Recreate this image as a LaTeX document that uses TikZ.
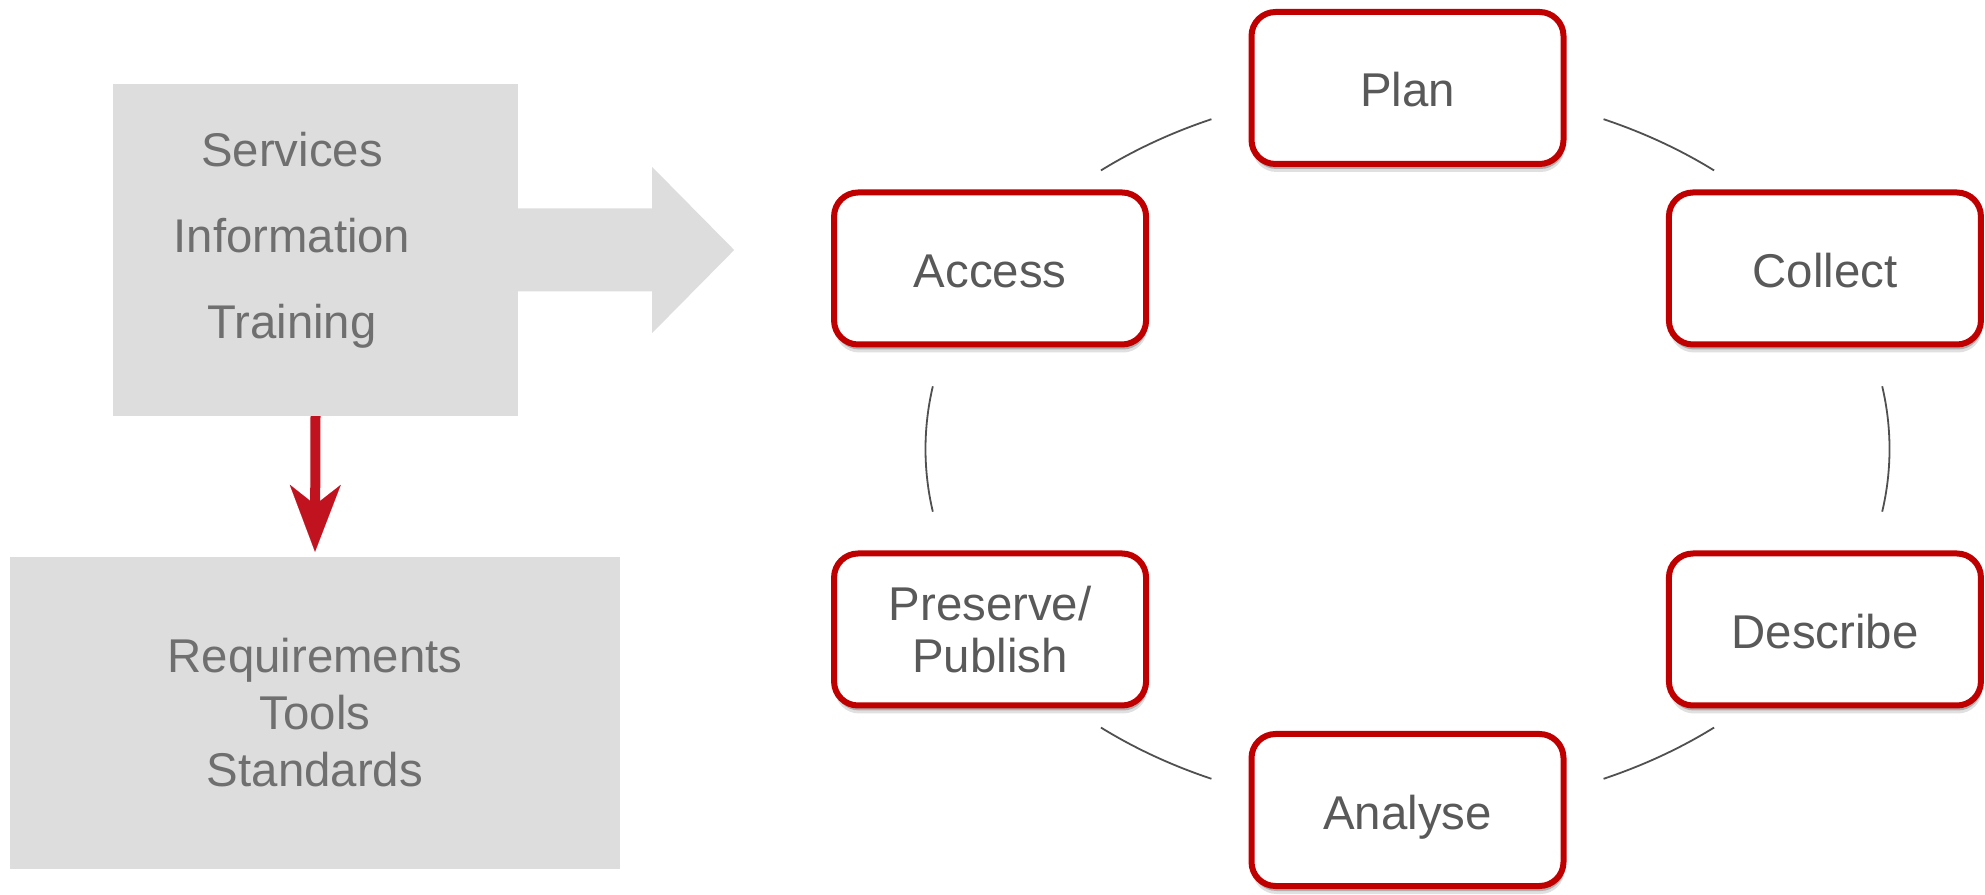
\documentclass[tikz,border=0pt]{standalone}
\usepackage{fontspec}
\setmainfont{Liberation Sans}
\usetikzlibrary{arrows.meta,shadows,calc}
\definecolor{boxgrey}{HTML}{DDDDDD}
\definecolor{lefttxt}{HTML}{6F6F6F}
\definecolor{cyctxt}{HTML}{595959}
\definecolor{cycred}{HTML}{C00000}
\definecolor{arrred}{HTML}{C0121F}
\definecolor{arcgrey}{HTML}{505050}
\begin{document}
\begin{tikzpicture}[x=1pt,y=1pt,
  greybox/.style={fill=boxgrey, draw=none, inner sep=0pt},
  lefttext/.style={text=lefttxt, align=center, inner sep=0pt},
  stagebase/.style={draw=cycred, line width=6pt, fill=white, rounded corners=24pt,
    minimum width=312pt, minimum height=152pt, inner sep=0pt, text=cyctxt,
    align=center, font=\fontsize{47.4}{52}\selectfont,
    drop shadow={shadow xshift=1pt, shadow yshift=-8pt, opacity=0.12, fill=black},
    drop shadow={shadow xshift=1pt, shadow yshift=-5pt, opacity=0.22, fill=black}},
  stage/.style={stagebase, text height=38pt, text depth=0pt},
  arcline/.style={draw=arcgrey, line width=1.8pt},
  redarr/.style={draw=arrred, line width=10pt,
    -{Stealth[length=67pt, width=51pt, inset=20pt, line width=0.1pt]}, shorten >=5pt},
]
\useasboundingbox (0,0) rectangle (1985,894);

% left side
\node[greybox, minimum width=405pt, minimum height=332pt] (src) at (315.5,644) {};
\node[lefttext, font=\fontsize{47.3}{86}\selectfont] (srctext) at (292,653.3)
  {Services\\Information\\Training};
\node[greybox, minimum width=610pt, minimum height=312pt] (dst) at (315,181) {};
\node[lefttext, font=\fontsize{47.4}{57}\selectfont] (dsttext) at (315,181.9)
  {Requirements\\Tools\\Standards};

\fill[boxgrey] ([xshift=-1pt,yshift=41.5pt]src.east) -- ++(135pt,0) -- ++(0,41.5pt)
  -- ++(82pt,-83pt) -- ++(-82pt,-83pt) -- ++(0,41.5pt)
  -- ([xshift=-1pt,yshift=-41.5pt]src.east) -- cycle;
\draw[redarr] (src.south) -- (dst.north);

% cycle
\coordinate (C) at (1407.5,445);
\foreach \a/\b in {66/50.5, 10/-10, -50.5/-66, -114/-129.5, 190/170, 129.5/114}
  \draw[arcline] ($(C)+(\a:482pt and 361pt)$) arc[start angle=\a, end angle=\b, x radius=482pt, y radius=361pt];

\node[stage] (plan) at ($(C)+(90:482pt and 361pt)$) {Plan};
\node[stage] (collect) at ($(C)+(30:482pt and 361pt)$) {Collect};
\node[stage] (describe) at ($(C)+(-30:482pt and 361pt)$) {Describe};
\node[stage] (analyse) at ($(C)+(-90:482pt and 361pt)$) {Analyse};
\node[stagebase] (preserve) at ($(C)+(210:482pt and 361pt)$) {Preserve/\\Publish};
\node[stage] (access) at ($(C)+(150:482pt and 361pt)$) {Access};
\end{tikzpicture}
\end{document}
